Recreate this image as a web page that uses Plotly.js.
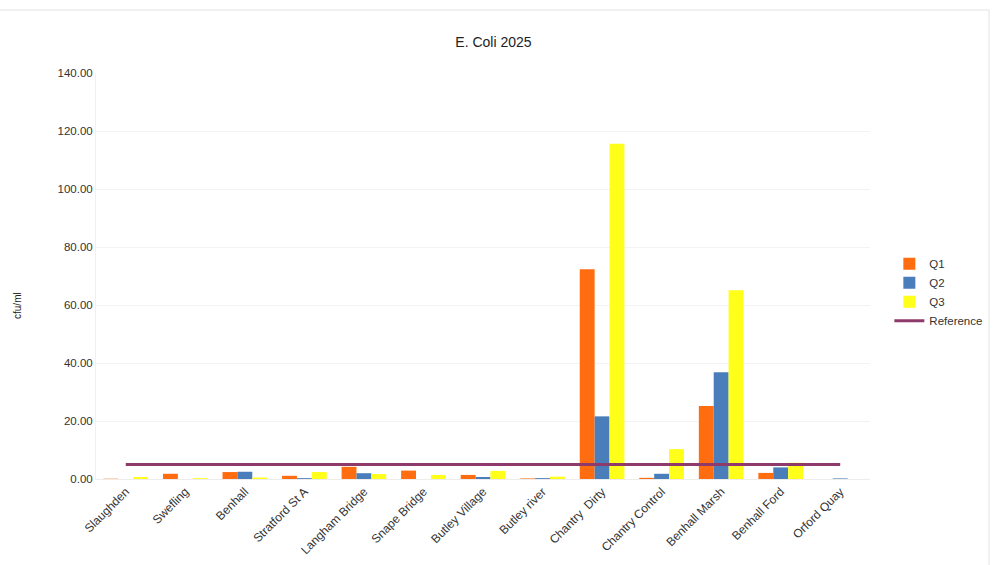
<!DOCTYPE html>
<html>
<head>
<meta charset="utf-8">
<script src="https://cdn.plot.ly/plotly-3.0.1.min.js"></script>
<style>
  html, body { margin: 0; padding: 0; background: #fff; }
  #wrap { position: relative; width: 1001px; height: 565px; }
  #frame { position: absolute; left: 0; top: 9px; width: 990px; height: 556px;
           border-top: 2px solid #f1f1f1; border-right: 2px solid #f1f1f1; box-sizing: border-box; pointer-events: none; }
  #chart { position: absolute; left: 0; top: 0; width: 1001px; height: 565px; }
</style>
</head>
<body>
<div id="wrap">
  <div id="chart"></div>
  <div id="frame"></div>
</div>
<script>
const categories = ["Slaughden", "Swefling", "Benhall", "Stratford St A", "Langham Bridge",
  "Snape Bridge", "Butley Village", "Butley river", "Chantry  Dirty", "Chantry Control",
  "Benhall Marsh", "Benhall Ford", "Orford Quay"];
const q1 = [0.1, 1.8, 2.4, 1.1, 4.2, 2.9, 1.4, 0.2, 72.3, 0.4, 25.2, 2.1, 0.0];
const q2 = [0.0, 0.0, 2.5, 0.3, 2.0, 0.0, 0.7, 0.3, 21.6, 1.8, 36.8, 4.0, 0.2];
const q3 = [0.7, 0.3, 0.5, 2.4, 1.7, 1.4, 2.8, 0.8, 115.6, 10.3, 65.1, 5.6, 0.0];
const reference = [5, 5, 5, 5, 5, 5, 5, 5, 5, 5, 5, 5, 5];
const yTicks = [0, 20, 40, 60, 80, 100, 120, 140];

const fam = "Liberation Sans, Arial, sans-serif";

const traces = [
  { type: "bar", name: "Q1", x: categories, y: q1, marker: { color: "#FF6D10" } },
  { type: "bar", name: "Q2", x: categories, y: q2, marker: { color: "#4A7EBB" } },
  { type: "bar", name: "Q3", x: categories, y: q3, marker: { color: "#FFFF1A" } },
  { type: "scatter", mode: "lines", name: "Reference", x: categories, y: reference,
    line: { color: "#8E3B6B", width: 3 } }
];

const layout = {
  width: 1001, height: 565,
  margin: { l: 96, r: 131, t: 73, b: 86 },
  paper_bgcolor: "rgba(0,0,0,0)",
  plot_bgcolor: "#fff",
  font: { family: fam, size: 11, color: "#333" },
  title: { text: "E. Coli 2025", font: { family: fam, size: 14, color: "#222" },
           x: 0.493, xanchor: "center", y: 0.925, yanchor: "middle" },
  barmode: "group",
  bargap: 0.25,
  bargroupgap: 0,
  showlegend: true,
  legend: { x: 1.025, y: 0.46, xanchor: "left", yanchor: "middle",
            font: { family: fam, size: 11.5, color: "#333" },
            tracegroupgap: 0, itemwidth: 30 },
  annotations: [{
    text: "cfu/ml", xref: "paper", yref: "paper", x: -0.1008, y: 0.4286,
    xanchor: "center", yanchor: "middle", textangle: -90, showarrow: false,
    font: { family: fam, size: 10, color: "#222" }
  }],
  xaxis: {
    type: "category",
    tickangle: -45,
    tickfont: { family: fam, size: 12, color: "#333" },
    showgrid: false,
    showline: true, linecolor: "#ececec", linewidth: 1,
    ticks: "", automargin: false
  },
  yaxis: {
    range: [0, 140],
    tickvals: yTicks,
    ticktext: yTicks.map(v => v.toFixed(2)),
    tickfont: { family: fam, size: 11.5, color: "#333" },
    showgrid: true, gridcolor: "#f3f3f3", gridwidth: 1,
    zeroline: false,
    showline: true, linecolor: "#f0f0f0",
    ticks: "", automargin: false
  }
};

Plotly.newPlot("chart", traces, layout, { displayModeBar: false, staticPlot: true });
</script>
</body>
</html>
